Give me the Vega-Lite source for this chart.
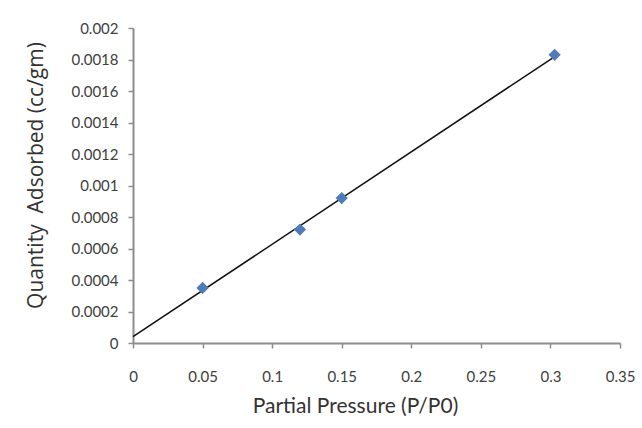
{
  "$schema": "https://vega.github.io/schema/vega-lite/v6.json",
  "autosize": "none",
  "width": 487,
  "height": 315,
  "padding": {"left": 133, "top": 28, "right": 22, "bottom": 85},
  "background": "white",
  "config": {
    "view": {"stroke": null},
    "font": "Lato",
    "axis": {
      "grid": false,
      "domainColor": "#8c8c8c",
      "domainWidth": 2,
      "tickColor": "#8c8c8c",
      "tickWidth": 1.5,
      "tickSize": 5,
      "labelFont": "Lato",
      "labelFontSize": 15,
      "labelColor": "#404040",
      "labelOverlap": false,
      "labelFlush": false,
      "titleFontWeight": "normal",
      "titleColor": "#333333"
    }
  },
  "datasets": {
    "points": [
      {"p": 0.05, "q": 0.00035},
      {"p": 0.12, "q": 0.00072},
      {"p": 0.15, "q": 0.00092},
      {"p": 0.303, "q": 0.00183}
    ],
    "trend": [
      {"p": 0, "q": 0.00004},
      {"p": 0.305, "q": 0.00183}
    ]
  },
  "encoding": {
    "x": {
      "field": "p",
      "type": "quantitative",
      "scale": {"domain": [0, 0.35], "nice": false},
      "axis": {
        "values": [0, 0.05, 0.1, 0.15, 0.2, 0.25, 0.3, 0.35],
        "format": "~g",
        "labelPadding": 21,
        "labelOverlap": false,
        "title": "Partial Pressure (P/P0)",
        "titleFont": "Lato",
        "titleFontSize": 21,
        "titleX": 222,
        "titlePadding": 11
      }
    },
    "y": {
      "field": "q",
      "type": "quantitative",
      "scale": {"domain": [0, 0.002], "nice": false},
      "axis": {
        "values": [0, 0.0002, 0.0004, 0.0006, 0.0008, 0.001, 0.0012, 0.0014, 0.0016, 0.0018, 0.002],
        "format": "~g",
        "labelPadding": 10,
        "labelOverlap": false,
        "title": "Quantity\u00a0\u00a0Adsorbed (cc/gm)",
        "titleFont": "Open Sans",
        "titleFontSize": 21,
        "titleY": 147,
        "titlePadding": 24
      }
    }
  },
  "layer": [
    {
      "data": {"name": "trend"},
      "mark": {"type": "line", "color": "#111111", "strokeWidth": 1.5}
    },
    {
      "data": {"name": "points"},
      "mark": {"type": "point", "shape": "diamond", "filled": true, "color": "#4f7cb8", "opacity": 1, "size": 150}
    }
  ]
}
